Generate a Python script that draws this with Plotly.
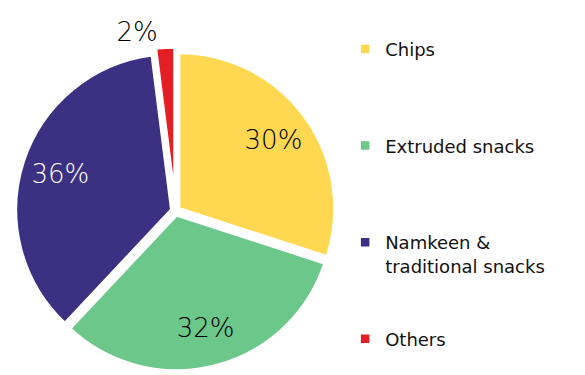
import plotly.graph_objects as go

# Snack market share by segment
categories = ["Chips", "Extruded snacks", "Namkeen &<br>traditional snacks", "Others"]
shares = [30, 32, 36, 2]
colors = ["#FFD750", "#6CC78B", "#3C3082", "#E31E24"]
text_colors = ["#000000", "#000000", "#FFFFFF", "#000000"]
positions = ["inside", "inside", "inside", "outside"]

# blank lines spread the legend entries down the right side
pad = ["<br> <br> <br> ", "<br> <br> <br> ", "<br> <br> ", ""]
legend_labels = [c + p for c, p in zip(categories, pad)]

FONT = "DejaVu Sans"
LABEL_WEIGHT = 200
DOMAIN = dict(x=[0.0, 0.6], y=[0.0, 0.875])
PULL = [0.025, 0.025, 0.025, 0.05]

fig = go.Figure()

# coloured slices
fig.add_trace(
    go.Pie(
        labels=legend_labels,
        values=shares,
        sort=False,
        direction="clockwise",
        rotation=0,
        pull=PULL,
        marker=dict(colors=colors, line=dict(color="white", width=3.5)),
        textinfo="none",
        domain=DOMAIN,
        hoverinfo="label+percent",
    )
)

# percentage labels, set on a transparent ring so they sit toward the rim
fig.add_trace(
    go.Pie(
        labels=legend_labels,
        values=shares,
        sort=False,
        direction="clockwise",
        rotation=0,
        pull=PULL,
        hole=0.5,
        marker=dict(colors=["rgba(0,0,0,0)"] * len(shares), line=dict(width=0)),
        texttemplate="%{value}%",
        textposition=positions,
        insidetextorientation="horizontal",
        textfont=dict(size=26, color=text_colors, family=FONT, weight=LABEL_WEIGHT),
        outsidetextfont=dict(size=26, color="#000000", family=FONT, weight=LABEL_WEIGHT),
        domain=DOMAIN,
        showlegend=False,
        hoverinfo="skip",
    )
)

fig.update_layout(
    width=585,
    height=375,
    margin=dict(l=0, r=0, t=0, b=0, autoexpand=False),
    paper_bgcolor="white",
    plot_bgcolor="white",
    font=dict(family=FONT, color="#111111"),
    legend=dict(
        x=0.59,
        y=0.918,
        xanchor="left",
        yanchor="top",
        valign="top",
        font=dict(size=18, color="#111111", family=FONT),
        traceorder="normal",
    ),
)

fig.write_html("out.html")
